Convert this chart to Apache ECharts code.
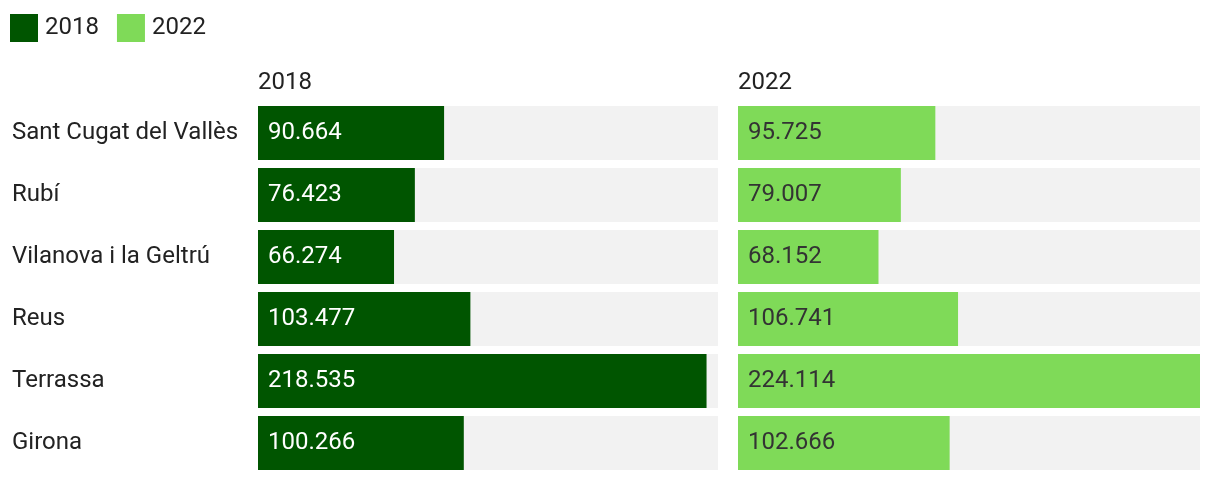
<!DOCTYPE html>
<html>
<head>
<meta charset="utf-8">
<script src="https://cdn.jsdelivr.net/npm/echarts@6/dist/echarts.min.js"></script>
<style>html,body{margin:0;padding:0;background:#fff}#c{width:1220px;height:482px}</style>
</head>
<body>
<div id="c"></div>
<script>
const categories = ['Sant Cugat del Vallès', 'Rubí', 'Vilanova i la Geltrú', 'Reus', 'Terrassa', 'Girona'];
const values2018 = [90.664, 76.423, 66.274, 103.477, 218.535, 100.266];
const values2022 = [95.725, 79.007, 68.152, 106.741, 224.114, 102.666];
const seriesNames = ['2018', '2022'];
const axisMax = 224.114;

const chart = echarts.init(document.getElementById('c'), null, {renderer: 'canvas'});
const font = 'Roboto, "Noto Sans", sans-serif';
const fs = 24;
const fmt = p => p.value.toFixed(3);
chart.setOption({
  animation: false,
  textStyle: {fontFamily: font},
  legend: {
    data: seriesNames, left: 5, top: 9, icon: 'rect', itemWidth: 28, itemHeight: 28,
    itemGap: 18, textStyle: {fontSize: fs, color: '#222', fontFamily: font, padding: [0, 0, 0, 2]}
  },
  title: [
    {text: seriesNames[0], left: 253, top: 66, textStyle: {fontSize: fs, fontWeight: 'normal', color: '#222', fontFamily: font}},
    {text: seriesNames[1], left: 733, top: 66, textStyle: {fontSize: fs, fontWeight: 'normal', color: '#222', fontFamily: font}}
  ],
  grid: [
    {left: 258, width: 460, top: 102, height: 372},
    {left: 738, width: 462, top: 102, height: 372}
  ],
  xAxis: [
    {type: 'value', gridIndex: 0, min: 0, max: axisMax, show: false},
    {type: 'value', gridIndex: 1, min: 0, max: axisMax, show: false}
  ],
  yAxis: [
    {type: 'category', gridIndex: 0, data: categories, inverse: true,
     axisLine: {show: false}, axisTick: {show: false},
     axisLabel: {align: 'left', margin: 246, fontSize: fs, color: '#222', fontFamily: font, padding: [6, 0, 0, 0]}},
    {type: 'category', gridIndex: 1, data: categories, inverse: true, show: false}
  ],
  series: [
    {name: seriesNames[0], type: 'bar', xAxisIndex: 0, yAxisIndex: 0, data: values2018,
     barWidth: 54, itemStyle: {color: '#005500'},
     showBackground: true, backgroundStyle: {color: '#f2f2f2'},
     label: {show: true, position: 'insideLeft', distance: 10, formatter: fmt, fontSize: fs, color: '#fff', fontFamily: font}},
    {name: seriesNames[1], type: 'bar', xAxisIndex: 1, yAxisIndex: 1, data: values2022,
     barWidth: 54, itemStyle: {color: '#7fda58'},
     showBackground: true, backgroundStyle: {color: '#f2f2f2'},
     label: {show: true, position: 'insideLeft', distance: 10, formatter: fmt, fontSize: fs, color: '#333', fontFamily: font}}
  ]
});
</script>
</body>
</html>
